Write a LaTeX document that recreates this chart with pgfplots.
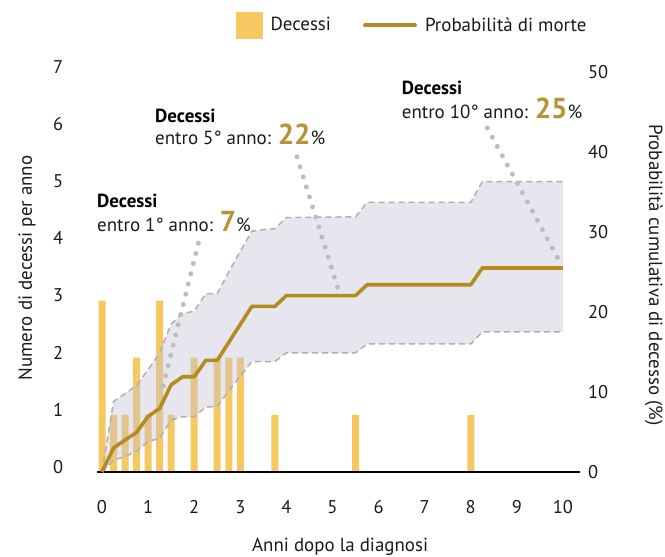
\documentclass[border=0pt]{standalone}
\usepackage{fontspec}
\setmainfont{PT Sans}
\usepackage{pgfplots}
\pgfplotsset{compat=1.18}
\definecolor{barcol}{HTML}{F5C862}
\definecolor{linecol}{HTML}{B38B1E}
\definecolor{numcol}{HTML}{B8913A}
\definecolor{bandcol}{RGB}{195,190,210}
\definecolor{dashgray}{HTML}{B0B0B0}
\definecolor{dotgray}{HTML}{BDBDBD}
\definecolor{txt}{HTML}{1A1A1A}
\newcommand{\fs}{\fontsize{19}{22}\selectfont}
\newcommand{\tl}{\fontsize{18.5}{21}\selectfont}
\newcommand{\bignum}[1]{{\fontsize{29}{30}\selectfont\bfseries\color{numcol}#1}}
\begin{document}
\begin{tikzpicture}
\useasboundingbox (0,0) rectangle (665bp,557bp);
\begin{axis}[
  at={(97.4bp,85bp)}, anchor=south west,
  scale only axis, width=482.6bp, height=400bp,
  xmin=-0.1, xmax=10.37, ymin=0, ymax=7,
  axis line style={draw=none},
  tick style={draw=none},
  xtick={0,...,10}, ytick={0,...,7},
  /pgf/number format/assume math mode=true,
  ticklabel style={font=\tl, text=txt},
  xticklabel style={anchor=north, inner sep=0pt, yshift=-28bp},
  yticklabel style={anchor=east, inner sep=0pt, xshift=-34bp, yshift=5bp},
  xlabel={Anni dopo la diagnosi},
  ylabel={Numero di decessi per anno},
  xlabel style={font=\fs, text=txt, at={(axis description cs:0.503,-0.1875)}, anchor=center},
  ylabel style={font=\fs, text=txt, at={(axis description cs:-0.146,0.51)}, anchor=center},
]
\addplot[ybar, bar width=7bp, fill=barcol, draw=none] coordinates {
(0,3) (0.25,1) (0.5,1) (0.75,2) (1.0,1) (1.25,3) (1.5,1)
(2.0,2) (2.5,2) (2.75,2) (3.0,2) (3.75,1) (5.5,1) (8.0,1)
};
\end{axis}
\begin{axis}[
  at={(97.4bp,85bp)}, anchor=south west,
  scale only axis, width=482.6bp, height=400bp,
  xmin=-0.1, xmax=10.37, ymin=0, ymax=50,
  axis line style={draw=none},
  tick style={draw=none},
  xtick=\empty, ytick={0,10,...,50},
  yticklabel pos=right,
  /pgf/number format/assume math mode=true,
  ticklabel style={font=\tl, text=txt},
  yticklabel style={anchor=west, inner sep=0pt, xshift=8bp},
  ylabel={Probabilità cumulativa di decesso (\%)},
  ylabel style={font=\fs, text=txt, at={(axis description cs:1.153,0.4925)}, anchor=center, rotate=180},
  clip=false,
  legend columns=2,
  legend style={draw=none, fill=none, inner sep=0pt, at={(0.287,1.1175)}, anchor=west,
    font=\fs, text=txt,
    /tikz/every odd column/.append style={column sep=6bp},
    /tikz/every even column/.append style={column sep=30bp}},
]
\addlegendimage{legend image code/.code={\fill[barcol] (0bp,-13bp) rectangle (26bp,13bp);}}
\addlegendentry{Decessi}
% confidence band
\addplot[fill=bandcol, fill opacity=0.4, draw=none, forget plot] coordinates {
(0,0) (0.25,8.8) (0.5,9.8) (0.75,10.8) (1.0,12.8) (1.25,14.9) (1.5,18.5) (1.75,19.8)
(2.0,20.1) (2.25,22.3) (2.5,22.3) (2.75,25.0) (3.0,27.6) (3.25,30.1) (3.5,30.3)
(3.75,30.4) (4.0,31.8) (5.5,31.9) (5.75,33.7) (8.0,33.7) (8.25,36.3) (10,36.3)
(10,17.5) (8.25,17.5) (8.0,16.0) (5.75,16.0) (5.5,14.9) (4.0,14.9) (3.75,13.8)
(3.25,13.8) (3.0,12.0) (2.75,10.1) (2.5,8.2) (2.25,8.1) (2.0,6.9) (1.75,6.9)
(1.5,6.5) (1.25,4.2) (1.0,3.8) (0.75,2.6) (0.5,1.9) (0.25,1.5) (0,0)
} -- cycle;
\addplot[dashgray, line width=1.5bp, dash pattern=on 6bp off 4bp, forget plot] coordinates {
(0,0) (0.25,8.8) (0.5,9.8) (0.75,10.8) (1.0,12.8) (1.25,14.9) (1.5,18.5) (1.75,19.8)
(2.0,20.1) (2.25,22.3) (2.5,22.3) (2.75,25.0) (3.0,27.6) (3.25,30.1) (3.5,30.3)
(3.75,30.4) (4.0,31.8) (5.5,31.9) (5.75,33.7) (8.0,33.7) (8.25,36.3) (10,36.3)
};
\addplot[dashgray, line width=1.5bp, dash pattern=on 6bp off 4bp, forget plot] coordinates {
(0,0) (0.25,1.5) (0.5,1.9) (0.75,2.6) (1.0,3.8) (1.25,4.2) (1.5,6.5) (1.75,6.9)
(2.0,6.9) (2.25,8.1) (2.5,8.2) (2.75,10.1) (3.0,12.0) (3.25,13.8) (3.75,13.8)
(4.0,14.9) (5.5,14.9) (5.75,16.0) (8.0,16.0) (8.25,17.5) (10,17.5)
};
% connectors
\addplot[dotgray, line width=5bp, line cap=round, dash pattern=on 0bp off 10.5bp, forget plot] coordinates {(2.09,28.6) (1.29,9.9)};
\addplot[dotgray, line width=5bp, line cap=round, dash pattern=on 0bp off 10.5bp, forget plot] coordinates {(4.23,39.4) (5.13,22.7)};
\addplot[dotgray, line width=5bp, line cap=round, dash pattern=on 0bp off 10.5bp, forget plot] coordinates {(8.36,43.0) (9.93,26.3)};
% x axis line
\draw[black, line width=2.2bp] (rel axis cs:0,0) -- (rel axis cs:1,0);
% main line
\addplot[linecol, line width=3.6bp, line join=round,
  legend image code/.code={\draw[linecol, line width=4bp, line cap=round] (2bp,0bp) -- (52bp,0bp);}] coordinates {
(0,0) (0.25,3.0) (0.5,4.0) (0.75,4.95) (1.0,6.95) (1.25,7.95) (1.5,10.9) (1.75,11.9)
(2.0,11.9) (2.25,13.95) (2.5,13.95) (2.75,16.2) (3.0,18.45) (3.25,20.7) (3.5,20.7)
(3.75,20.7) (4.0,22.05) (5.5,22.05) (5.75,23.4) (8.0,23.4) (8.25,25.5) (10,25.5)
};
\addlegendentry{Probabilità di morte}
\end{axis}
% annotations
\node[anchor=base west, inner sep=0pt, font=\fs\bfseries, text=black] at (97bp,349bp) {Decessi};
\node[anchor=base west, inner sep=0pt, font=\fs, text=txt] at (97bp,325.3bp) {entro 1° anno: \bignum{7}\%};
\node[anchor=base west, inner sep=0pt, font=\fs\bfseries, text=black] at (155bp,434.7bp) {Decessi};
\node[anchor=base west, inner sep=0pt, font=\fs, text=txt] at (155bp,412bp) {entro 5° anno: \bignum{22}\%};
\node[anchor=base west, inner sep=0pt, font=\fs\bfseries, text=black] at (401.7bp,462bp) {Decessi};
\node[anchor=base west, inner sep=0pt, font=\fs, text=txt] at (401.7bp,438.7bp) {entro 10° anno: \bignum{25}\%};
\end{tikzpicture}
\end{document}
